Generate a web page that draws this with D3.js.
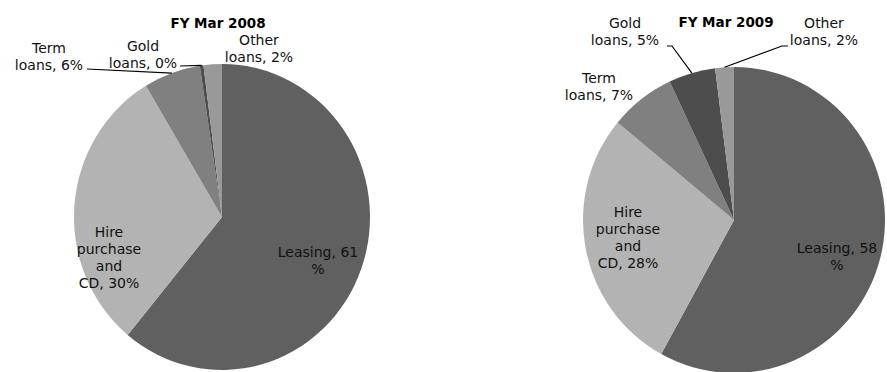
<!DOCTYPE html>
<html>
<head>
<meta charset="utf-8">
<script src="https://cdn.jsdelivr.net/npm/d3@7"></script>
<style>
  body { margin: 0; background: #fff; }
  svg { display: block; }
</style>
</head>
<body>
<main></main>
<script>
// data
var categories = ["Leasing", "Hire purchase and CD", "Term loans", "Gold loans", "Other loans"]
var values2008 = [61, 30.4, 6.2, 0.4, 2.0]
var values2009 = [58, 28, 7, 5, 2]
var labels2008 = [["Leasing, 61", "%"], ["Hire", "purchase", "and", "CD, 30%"], ["Term", "loans, 6%"], ["Gold", "loans, 0%"], ["Other", "loans, 2%"]]
var labels2009 = [["Leasing, 58", "%"], ["Hire", "purchase", "and", "CD, 28%"], ["Term", "loans, 7%"], ["Gold", "loans, 5%"], ["Other", "loans, 2%"]]
var titles = ["FY Mar 2008", "FY Mar 2009"]
var colors = ["#606060", "#b3b3b3", "#808080", "#4d4d4d", "#999999"]

// layout (label centre x, first baseline y, leader start or null)
var charts = [
  {title: titles[0], values: values2008, labels: labels2008, cx: 222, cy: 217, rx: 148, ry: 153, titleX: 218, titleY: 28,
   pos: [{x: 318, y: 257}, {x: 109, y: 237}, {x: 49, y: 53, lead: [87, 69]}, {x: 143, y: 51, lead: [180, 66]}, {x: 259, y: 45}]},
  {title: titles[1], values: values2009, labels: labels2009, cx: 734, cy: 220, rx: 151, ry: 153, titleX: 726, titleY: 27,
   pos: [{x: 837, y: 253}, {x: 628, y: 217}, {x: 599, y: 83}, {x: 625, y: 28, lead: [667, 46], elbow: [672, 46]}, {x: 824, y: 28, lead: [788, 46], elbow: [782, 46]}]}
]

var svg = d3.select("main").append("svg")
    .attr("width", 887)
    .attr("height", 372)
    .style("font-family", "'DejaVu Sans', Verdana, sans-serif")

var pie = d3.pie().sort(null).value(d => d)
var lineHeight = 17

charts.forEach(function(c){
  var arc = d3.arc().innerRadius(0).outerRadius(c.ry)
  var arcs = pie(c.values)

  var g = svg.append("g")
      .attr("transform", "translate(" + c.cx + "," + c.cy + ") scale(" + (c.rx / c.ry) + ",1)")

  g.selectAll("path").data(arcs)
    .enter().append("path")
      .attr("d", arc)
      .attr("fill", (d, i) => colors[i])

  svg.append("text")
      .attr("x", c.titleX)
      .attr("y", c.titleY)
      .attr("text-anchor", "middle")
      .style("font-size", "13.5px")
      .style("font-weight", "bold")
      .text(c.title)

  arcs.forEach(function(a, i){
    var p = c.pos[i]
    if (p.lead) {
      var mid = (a.startAngle + a.endAngle) / 2
      var ex = c.cx + c.rx * Math.sin(mid)
      var ey = c.cy - c.ry * Math.cos(mid)
      var pts = [p.lead]
      if (p.elbow) pts.push(p.elbow)
      pts.push([ex, ey])
      svg.append("path")
          .attr("d", d3.line()(pts))
          .attr("fill", "none")
          .attr("stroke", "#000")
          .attr("stroke-width", 1.2)
    }
    var t = svg.append("text")
        .attr("text-anchor", "middle")
        .attr("fill", "#111")
        .style("font-size", "14px")
    c.labels[i].forEach(function(line, k){
      t.append("tspan")
          .attr("x", p.x)
          .attr("y", p.y + k * lineHeight)
          .text(line)
    })
  })
})
</script>
</body>
</html>
